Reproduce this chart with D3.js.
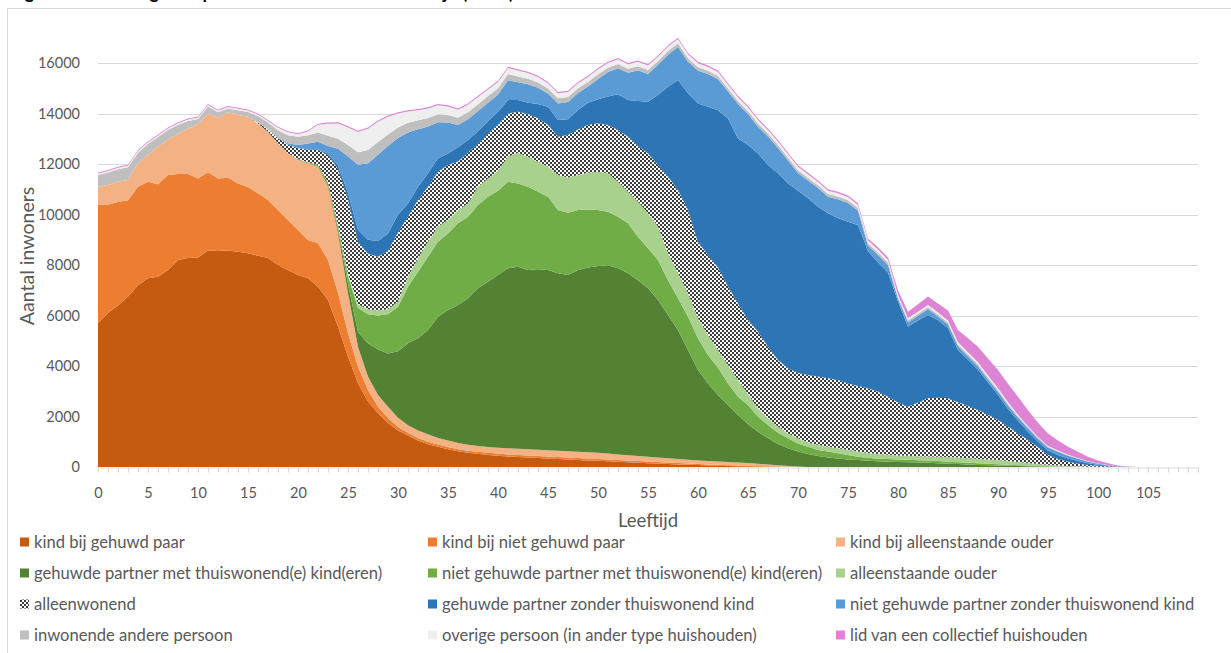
<!DOCTYPE html>
<html>
<head>
<meta charset="utf-8">
<script src="https://cdn.jsdelivr.net/npm/d3@7"></script>
<style>
  html, body { margin: 0; padding: 0; background: #ffffff; overflow: hidden; }
  svg { display: block; font-family: Lato, "Open Sans", sans-serif; }
</style>
</head>
<body>
<svg id="chart" width="1231" height="653"></svg>
<script>
// Leeftijden 0 t/m 110
const ages = [
  0,1,2,3,4,5,6,7,8,9,
  10,11,12,13,14,15,16,17,18,19,
  20,21,22,23,24,25,26,27,28,29,
  30,31,32,33,34,35,36,37,38,39,
  40,41,42,43,44,45,46,47,48,49,
  50,51,52,53,54,55,56,57,58,59,
  60,61,62,63,64,65,66,67,68,69,
  70,71,72,73,74,75,76,77,78,79,
  80,81,82,83,84,85,86,87,88,89,
  90,91,92,93,94,95,96,97,98,99,
  100,101,102,103,104,105,106,107,108,109,110
];
const xTickLabels = [0,5,10,15,20,25,30,35,40,45,50,55,60,65,70,75,80,85,90,95,100,105];
const yTicks = [0,2000,4000,6000,8000,10000,12000,14000,16000];

const seriesNames = [
  "kind bij gehuwd paar",
  "kind bij niet gehuwd paar",
  "kind bij alleenstaande ouder",
  "gehuwde partner met thuiswonend(e) kind(eren)",
  "niet gehuwde partner met thuiswonend(e) kind(eren)",
  "alleenstaande ouder",
  "alleenwonend",
  "gehuwde partner zonder thuiswonend kind",
  "niet gehuwde partner zonder thuiswonend kind",
  "inwonende andere persoon",
  "overige persoon (in ander type huishouden)",
  "lid van een collectief huishouden"
];

// Aantal inwoners per leeftijd (één rij per tien jaar), per huishoudpositie
const kindGehuwdPaar = [
  5700,6100,6400,6750,7200,7480,7530,7800,8200,8280,
  8300,8570,8550,8570,8520,8470,8370,8280,8000,7800,
  7600,7480,7140,6610,5560,4370,3320,2590,2130,1740,
  1450,1250,1050,900,800,700,620,560,520,480,
  450,420,400,380,360,340,320,300,280,260,
  250,230,210,190,170,150,140,120,100,90,
  80,60,50,40,30,25,20,15,10,8,
  5,0,0,0,0,0,0,0,0,0,
  0,0,0,0,0,0,0,0,0,0,
  0,0,0,0,0,0,0,0,0,0,
  0,0,0,0,0,0,0,0,0,0,0
];
const kindNietGehuwdPaar = [
  4680,4300,4100,3810,3900,3820,3670,3760,3400,3320,
  3130,3100,2880,2890,2710,2620,2470,2290,2180,1980,
  1790,1510,1720,1590,1330,930,650,460,260,200,
  130,110,100,100,90,90,80,80,80,80,
  80,80,80,80,80,80,80,80,80,80,
  70,70,70,70,70,65,55,55,55,45,
  40,40,35,30,25,20,15,10,8,4,
  3,0,0,0,0,0,0,0,0,0,
  0,0,0,0,0,0,0,0,0,0,
  0,0,0,0,0,0,0,0,0,0,
  0,0,0,0,0,0,0,0,0,0,0
];
const kindAlleenstaandeOuder = [
  720,770,800,810,930,1060,1490,1400,1600,1800,
  2130,2330,2400,2590,2720,2780,2760,2710,2640,2640,
  2770,3040,3030,2900,2380,1590,790,530,460,450,
  370,290,300,300,260,260,250,240,230,230,
  230,240,240,240,240,240,240,240,240,240,
  240,230,220,210,200,195,185,175,165,155,
  140,140,135,130,125,115,95,75,52,28,
  12,0,0,0,0,0,0,0,0,0,
  0,0,0,0,0,0,0,0,0,0,
  0,0,0,0,0,0,0,0,0,0,
  0,0,0,0,0,0,0,0,0,0,0
];
const gehuwdMetKind = [
  0,0,0,0,0,0,0,0,0,0,
  0,0,0,0,0,0,0,0,0,0,
  5,10,20,60,130,360,590,1320,1800,2110,
  2630,3250,3650,4130,4800,5170,5465,5800,6245,6550,
  6840,7130,7210,7100,7150,7140,7030,6980,7200,7320,
  7400,7460,7370,7200,6960,6665,6230,5670,5105,4340,
  3580,3070,2630,2255,1880,1540,1270,1035,840,700,
  590,515,435,380,340,300,280,250,225,210,
  200,190,175,165,150,130,115,100,80,70,
  55,45,35,25,18,12,8,5,3,0,
  0,0,0,0,0,0,0,0,0,0,0
];
const nietGehuwdMetKind = [
  0,0,0,0,0,0,0,0,0,0,
  0,0,0,0,0,0,0,0,0,0,
  15,30,50,100,130,300,950,1150,1350,1550,
  1770,2240,2635,2900,2970,3030,3235,3230,3300,3360,
  3340,3430,3300,3300,3070,2900,2510,2470,2380,2300,
  2220,2120,2040,1980,1720,1585,1590,1380,1255,1320,
  1260,1130,1080,855,725,755,590,525,450,395,
  325,285,235,230,200,175,130,120,105,105,
  100,100,95,90,85,80,75,70,70,60,
  55,45,35,30,22,18,12,7,5,4,
  2,0,0,0,0,0,0,0,0,0,0
];
const alleenstaandeOuder = [
  0,0,0,0,0,0,0,0,0,0,
  0,0,0,0,0,0,0,0,0,10,
  10,10,10,20,50,100,150,200,200,200,
  200,400,525,590,600,530,530,530,725,730,
  795,990,1220,1190,1190,1190,1380,1400,1380,1455,
  1515,1520,1390,1250,1390,1385,1320,1060,990,930,
  790,790,700,730,660,435,330,270,240,195,
  200,175,200,195,200,195,200,185,185,175,
  160,160,160,165,175,190,190,180,170,170,
  165,150,130,105,80,60,40,28,17,8,
  3,0,0,0,0,0,0,0,0,0,0
];
const alleenwonend = [
  0,0,0,0,0,0,0,0,0,0,
  0,0,0,0,0,0,30,100,200,330,
  430,480,580,1075,2220,2950,2450,2200,2130,2300,
  2750,2370,2315,2180,2175,2180,1920,2010,1700,1770,
  1815,1710,1620,1690,1720,1650,1520,1680,1810,1885,
  1915,1910,2045,2180,2200,2375,2440,3040,3300,3300,
  3010,3170,3270,3110,3035,2930,3040,2835,2640,2570,
  2600,2665,2710,2705,2705,2640,2600,2560,2465,2295,
  2090,1940,2120,2300,2330,2320,2180,2070,1940,1770,
  1585,1360,1130,910,660,385,260,170,105,68,
  40,20,8,0,0,0,0,0,0,0,0
];
const gehuwdZonderKind = [
  0,0,0,0,0,0,0,0,0,0,
  0,0,0,0,0,0,0,0,0,0,
  10,20,30,60,150,250,500,550,620,700,
  700,530,525,530,530,460,560,500,500,500,
  520,530,460,450,570,730,660,620,770,890,
  950,1130,1415,1450,1790,2050,2770,3560,4360,4620,
  5500,5870,6230,6650,6530,6930,7060,7195,7390,7330,
  7205,7000,6730,6535,6405,6405,6370,5435,5120,4915,
  4000,3170,3250,3300,3080,2780,2070,1830,1590,1280,
  990,700,500,330,220,175,160,130,110,70,
  45,25,7,2,0,0,0,0,0,0,0
];
const nietGehuwdZonderKind = [
  0,0,0,0,0,0,0,0,0,0,
  0,0,0,0,0,0,0,0,20,60,
  120,230,300,300,650,1450,2570,3030,3420,3470,
  3030,2810,2280,1860,1425,1220,880,820,800,730,
  680,790,710,730,640,520,660,690,670,640,
  810,970,1030,1080,1210,1090,1200,1270,1300,1250,
  1290,1290,1230,1075,1365,1230,1060,1125,1005,910,
  700,705,735,655,750,740,570,210,300,300,
  110,170,190,240,140,140,155,130,135,120,
  130,140,135,130,120,120,120,105,90,60,
  40,25,10,1,0,0,0,0,0,0,0
];
const inwonendeAnderePersoon = [
  450,490,490,500,420,440,380,390,350,300,
  220,280,220,150,180,190,270,260,300,320,
  330,330,370,400,400,450,500,520,500,450,
  420,380,350,330,320,300,290,280,270,260,
  250,240,230,220,210,200,200,190,190,180,
  180,170,170,160,160,160,150,150,150,140,
  140,130,130,125,125,120,120,120,120,115,
  115,115,115,110,110,110,110,100,100,100,
  80,80,80,80,80,80,80,80,80,75,
  70,60,50,40,35,30,25,20,15,10,
  5,2,0,0,0,0,0,0,0,0,0
];
const overigePersoon = [
  60,60,60,60,60,60,60,60,60,60,
  60,60,60,60,60,60,60,60,100,120,
  100,150,300,480,600,700,800,850,800,700,
  550,450,400,380,360,340,320,300,280,260,
  250,240,230,220,220,210,200,200,200,200,
  200,190,190,180,180,180,170,170,170,160,
  160,150,150,140,140,140,140,135,135,135,
  135,130,130,130,130,125,120,110,110,100,
  80,80,80,80,80,80,80,80,80,75,
  70,60,50,40,35,30,25,20,15,10,
  5,3,0,0,0,0,0,0,0,0,0
];
const collectiefHuishouden = [
  40,40,40,40,40,40,40,40,40,40,
  40,40,40,40,40,40,40,40,40,40,
  40,40,40,50,50,50,50,50,50,50,
  50,50,50,50,50,50,50,50,50,50,
  50,50,50,50,50,50,50,50,50,50,
  50,50,50,50,50,50,50,50,50,50,
  60,60,60,60,60,60,60,60,60,60,
  60,60,60,60,60,60,70,80,90,100,
  180,260,300,330,360,400,480,560,620,680,
  720,740,720,640,560,500,400,320,240,180,
  120,70,35,12,0,0,0,0,0,0,0
];

const seriesValues = [
  kindGehuwdPaar, kindNietGehuwdPaar, kindAlleenstaandeOuder,
  gehuwdMetKind, nietGehuwdMetKind, alleenstaandeOuder,
  alleenwonend, gehuwdZonderKind, nietGehuwdZonderKind,
  inwonendeAnderePersoon, overigePersoon, collectiefHuishouden
];

const colors = [
  "#C55A11", "#ED7D31", "#F4B183",
  "#548235", "#70AD47", "#A9D18E",
  "url(#alleenwonendPattern)", "#2E75B6", "#5B9BD5",
  "#BFBFBF", "#EFEFEF", "#DE84D4"
];

const svg = d3.select("#chart");
const W = 1231, H = 653;

// Dambordpatroon voor "alleenwonend"
const defs = svg.append("defs");
const pat = defs.append("pattern")
  .attr("id", "alleenwonendPattern")
  .attr("patternUnits", "userSpaceOnUse")
  .attr("width", 4).attr("height", 4);
pat.append("rect").attr("width", 4).attr("height", 4).attr("fill", "#ffffff");
pat.append("rect").attr("x", 0).attr("y", 0).attr("width", 2).attr("height", 2).attr("fill", "#3c3c3c");
pat.append("rect").attr("x", 2).attr("y", 2).attr("width", 2).attr("height", 2).attr("fill", "#3c3c3c");

// Titel (valt grotendeels boven de rand) en kaderrand
svg.append("text")
  .attr("x", 10).attr("y", -1)
  .attr("font-size", 18).attr("font-weight", 700).attr("fill", "#000")
  .text("Figuur 4 Bevolking naar positie in huishouden en leeftijd (2019)");

svg.append("rect")
  .attr("x", 7.5).attr("y", 8.5)
  .attr("width", W + 20).attr("height", H + 20)
  .attr("fill", "none").attr("stroke", "#D9D9D9");

// Schalen
const x = d3.scaleLinear().domain([0, 110]).range([98, 1198]);
const y = d3.scaleLinear().domain([0, 16000]).range([467, 63]);

// Rasterlijnen
svg.append("g")
  .selectAll("line")
  .data(yTicks.filter(v => v > 0))
  .join("line")
  .attr("x1", x(0)).attr("x2", x(110))
  .attr("y1", d => Math.round(y(d)) + 0.5)
  .attr("y2", d => Math.round(y(d)) + 0.5)
  .attr("stroke", "#D9D9D9").attr("stroke-width", 1);

// Gestapelde vlakken
const rows = ages.map((a, i) => {
  const r = { age: a };
  seriesNames.forEach((n, k) => { r[n] = seriesValues[k][i]; });
  return r;
});
const stacked = d3.stack().keys(seriesNames)(rows);
const area = d3.area()
  .x(d => x(d.data.age))
  .y0(d => y(d[0]))
  .y1(d => y(d[1]))
  .curve(d3.curveLinear);

svg.append("g")
  .selectAll("path")
  .data(stacked)
  .join("path")
  .attr("d", area)
  .attr("fill", (d, i) => colors[i]);

// Y-as
const yAxis = svg.append("g")
  .attr("transform", `translate(${x(0)},0)`)
  .call(d3.axisLeft(y).tickValues(yTicks).tickSize(0).tickPadding(18).tickFormat(d3.format("d")));
yAxis.select(".domain").remove();
yAxis.selectAll("text")
  .attr("font-family", "Lato, sans-serif")
  .attr("font-size", 14.5).attr("fill", "#595959");

// X-as
const xAxis = svg.append("g")
  .attr("transform", `translate(0,${y(0) + 0.5})`)
  .call(d3.axisBottom(x).tickValues(ages).tickSize(5).tickPadding(15)
    .tickFormat(d => xTickLabels.includes(d) ? String(d) : ""));
xAxis.select(".domain").attr("stroke", "#D9D9D9");
xAxis.selectAll(".tick line").attr("stroke", "#D9D9D9");
xAxis.selectAll("text")
  .attr("font-family", "Lato, sans-serif")
  .attr("font-size", 14.5).attr("fill", "#595959");

// Astitels
svg.append("text")
  .attr("transform", "translate(34,256) rotate(-90)")
  .attr("text-anchor", "middle")
  .attr("font-size", 19.5).attr("fill", "#595959")
  .text("Aantal inwoners");

svg.append("text")
  .attr("x", (x(0) + x(110)) / 2).attr("y", 527)
  .attr("text-anchor", "middle")
  .attr("font-size", 18.5).attr("fill", "#595959")
  .text("Leeftijd");

// Legenda: 3 kolommen, 4 rijen
const legendCols = [20, 428, 836];
const legendRows = [542, 573, 604, 635];
const legend = svg.append("g")
  .selectAll("g")
  .data(seriesNames)
  .join("g")
  .attr("transform", (d, i) => `translate(${legendCols[i % 3]},${legendRows[Math.floor(i / 3)]})`);
legend.append("rect")
  .attr("x", 0).attr("y", -4.5).attr("width", 9).attr("height", 9)
  .attr("fill", (d, i) => colors[i]);
legend.append("text")
  .attr("x", 14).attr("y", 0).attr("dy", "0.35em")
  .attr("font-size", 16.6).attr("fill", "#595959")
  .text(d => d);
</script>
</body>
</html>
